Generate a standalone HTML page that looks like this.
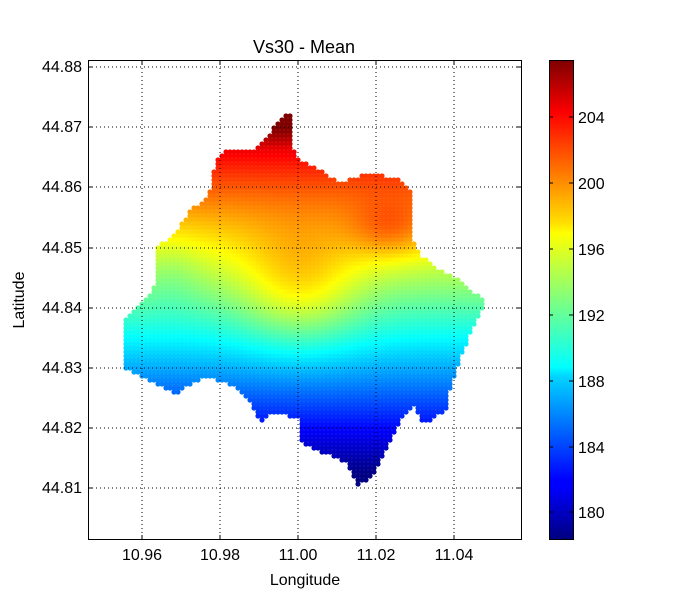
<!DOCTYPE html>
<html><head><meta charset="utf-8"><style>
body{margin:0;background:#fff;font-family:"Liberation Sans","DejaVu Sans",sans-serif}
</style></head><body>
<svg id="s" width="700" height="600" xmlns="http://www.w3.org/2000/svg" font-family="Liberation Sans, DejaVu Sans, sans-serif">
<defs>
<linearGradient id="jet" x1="0" y1="1" x2="0" y2="0">
<stop offset="0" stop-color="#00007f"/><stop offset="0.11" stop-color="#0000ff"/>
<stop offset="0.125" stop-color="#0000ff"/><stop offset="0.34" stop-color="#00d4ff"/>
<stop offset="0.36" stop-color="#0ff"/>
<stop offset="0.5" stop-color="#7fff7f"/><stop offset="0.64" stop-color="#ff0"/>
<stop offset="0.66" stop-color="#ffe000"/><stop offset="0.89" stop-color="#f00"/>
<stop offset="1" stop-color="#7f0000"/>
</linearGradient>
</defs>
<rect width="700" height="600" fill="#fff"/>
<text x="304" y="53" font-size="18" text-anchor="middle">Vs30 - Mean</text>
<g id="dots"></g>
<g stroke="#000" stroke-width="1" stroke-dasharray="1,3" fill="none">
<line x1="142" y1="60" x2="142" y2="540"/><line x1="220" y1="60" x2="220" y2="540"/>
<line x1="298" y1="60" x2="298" y2="540"/><line x1="376" y1="60" x2="376" y2="540"/>
<line x1="454" y1="60" x2="454" y2="540"/>
<line x1="88" y1="67" x2="522" y2="67"/><line x1="88" y1="127" x2="522" y2="127"/>
<line x1="88" y1="187" x2="522" y2="187"/><line x1="88" y1="248" x2="522" y2="248"/>
<line x1="88" y1="308" x2="522" y2="308"/><line x1="88" y1="368" x2="522" y2="368"/>
<line x1="88" y1="428" x2="522" y2="428"/><line x1="88" y1="488" x2="522" y2="488"/>
</g>
<rect x="88.5" y="60.5" width="433" height="479" fill="none" stroke="#000"/>
<g stroke="#000">
<path d="M142 540v-5M220 540v-5M298 540v-5M376 540v-5M454 540v-5M142 60v5M220 60v5M298 60v5M376 60v5M454 60v5"/>
<path d="M88 67h5M88 127h5M88 187h5M88 248h5M88 308h5M88 368h5M88 428h5M88 488h5M522 67h-5M522 127h-5M522 187h-5M522 248h-5M522 308h-5M522 368h-5M522 428h-5M522 488h-5"/>
</g>
<g font-size="16" text-anchor="middle">
<text x="142" y="560">10.96</text><text x="220" y="560">10.98</text><text x="298" y="560">11.00</text>
<text x="376" y="560">11.02</text><text x="454" y="560">11.04</text>
</g>
<g font-size="16" text-anchor="end">
<text x="82" y="72">44.88</text><text x="82" y="132">44.87</text><text x="82" y="192">44.86</text>
<text x="82" y="253">44.85</text><text x="82" y="313">44.84</text><text x="82" y="373">44.83</text>
<text x="82" y="433">44.82</text><text x="82" y="493">44.81</text>
</g>
<text x="305" y="585" font-size="16" text-anchor="middle">Longitude</text>
<text x="24" y="300" font-size="16" text-anchor="middle" transform="rotate(-90 24 300)">Latitude</text>
<rect x="549.5" y="60.5" width="24" height="479" fill="url(#jet)" stroke="#000"/>
<g stroke="#000"><path d="M549 512h4M549 447h4M549 381h4M549 315h4M549 249h4M549 183h4M549 117h4M573 512h-4M573 447h-4M573 381h-4M573 315h-4M573 249h-4M573 183h-4M573 117h-4"/></g>
<g font-size="16">
<text x="578" y="518">180</text><text x="578" y="453">184</text><text x="578" y="387">188</text>
<text x="578" y="321">192</text><text x="578" y="255">196</text><text x="578" y="189">200</text>
<text x="578" y="123">204</text>
</g>
</svg>
<script>
var P=[[284,114],[276,125],[268,135],[252,150],[228,150],[216,160],[212,180],[208,198],[190,210],[185,218],[172,238],[158,246],[156,280],[148,298],[126,318],[125,368],[154,382],[176,394],[194,382],[210,378],[232,385],[250,400],[262,424],[270,412],[298,418],[300,442],[320,452],[346,462],[358,485],[372,478],[400,420],[414,405],[424,424],[446,410],[450,390],[460,360],[472,330],[485,302],[462,282],[440,270],[420,255],[412,240],[412,190],[400,180],[370,173],[340,182],[320,170],[300,160],[294,150],[290,114]];
function inP(x,y){var c=false;for(var i=0,j=P.length-1;i<P.length;j=i++){var a=P[i],b=P[j];if((a[1]>y)!=(b[1]>y)&&x<(b[0]-a[0])*(y-a[1])/(b[1]-a[1])+a[0])c=!c;}return c;}
function jet(t){t=Math.max(0,Math.min(1,t));function f(v){return Math.round(255*Math.max(0,Math.min(1,v)));}
var r=f(1.5-Math.abs(4*t-3)),g=f(1.5-Math.abs(4*t-2)),b=f(1.5-Math.abs(4*t-1));return"rgb("+r+","+g+","+b+")";}
function G(x,y,cx,cy,sx,sy){var a=(x-cx)/sx,b=(y-cy)/sy;return Math.exp(-a*a-b*b);}
var s="";
for(var y=116;y<486;y+=4){for(var x=126;x<486;x+=4){if(!inP(x,y))continue;
var v=203.5-(y-160)*0.08;
if(y<150)v+=(150-y)*0.08;
v+=4*G(x,y,300,290,60,60);
v+=3*G(x,y,390,230,40,30);
v-=1*G(x,y,170,270,30,40);
s+='<circle cx="'+x+'" cy="'+y+'" r="2.6" fill="'+jet((v-178.3)/29.2)+'"/>';}}
document.getElementById("dots").innerHTML=s;
</script>
</body></html>
